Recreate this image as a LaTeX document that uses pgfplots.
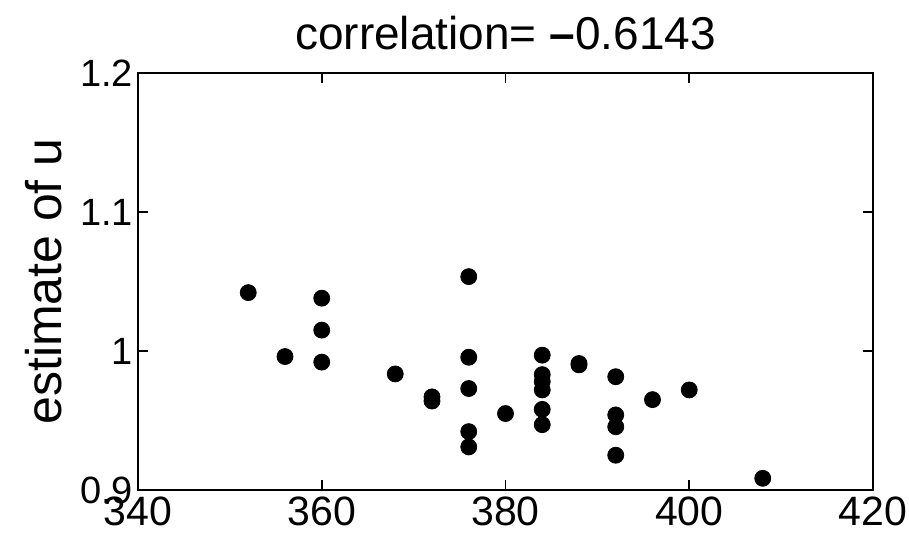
\documentclass[border=0pt]{standalone}
\usepackage{pgfplots}
\pgfplotsset{compat=1.18}
\usepackage{fontspec}
\setmainfont{Liberation Sans}
\begin{document}
\begin{tikzpicture}[x=1pt,y=1pt]
\path[use as bounding box] (-69,-27) rectangle (385.5,245);
\begin{axis}[
  scale only axis,
  width=367.5pt, height=208.5pt,
  at={(0,0)}, anchor=south west,
  xmin=340, xmax=420, ymin=0.9, ymax=1.2,
  xtick={340,360,380,400,420},
  ytick={0.9,1.0,1.1,1.2},
  yticklabels={0.9,1,1.1,1.2},
  /pgf/number format/assume math mode=true,
  xticklabel style={font=\fontsize{20.5}{22}\selectfont, yshift=0pt},
  yticklabel style={font=\fontsize{19}{21}\selectfont, xshift=1pt},
  major tick length=5pt,
  tick style={black, line width=0.8pt},
  axis line style={line width=0.8pt},
  ylabel={estimate of u},
  ylabel style={font=\fontsize{25}{27}\selectfont, yshift=2pt},
  title={correlation= \textbf{–}0.6143},
  title style={font=\fontsize{23}{25}\selectfont, yshift=2pt},
]
\addplot[only marks, mark=*, mark size=4pt, black] coordinates {
(352,1.042) (356,0.996) (360,1.038) (360,1.015) (360,0.992)
(368,0.9835) (372,0.967) (372,0.964)
(376,1.0535) (376,0.9955) (376,0.973) (376,0.942) (376,0.931)
(380,0.955)
(384,0.997) (384,0.983) (384,0.978) (384,0.972) (384,0.958) (384,0.947)
(388,0.991) (388,0.990)
(392,0.9815) (392,0.954) (392,0.9455) (392,0.925)
(396,0.965) (400,0.972) (408,0.9084)
};
\end{axis}
\end{tikzpicture}
\end{document}
